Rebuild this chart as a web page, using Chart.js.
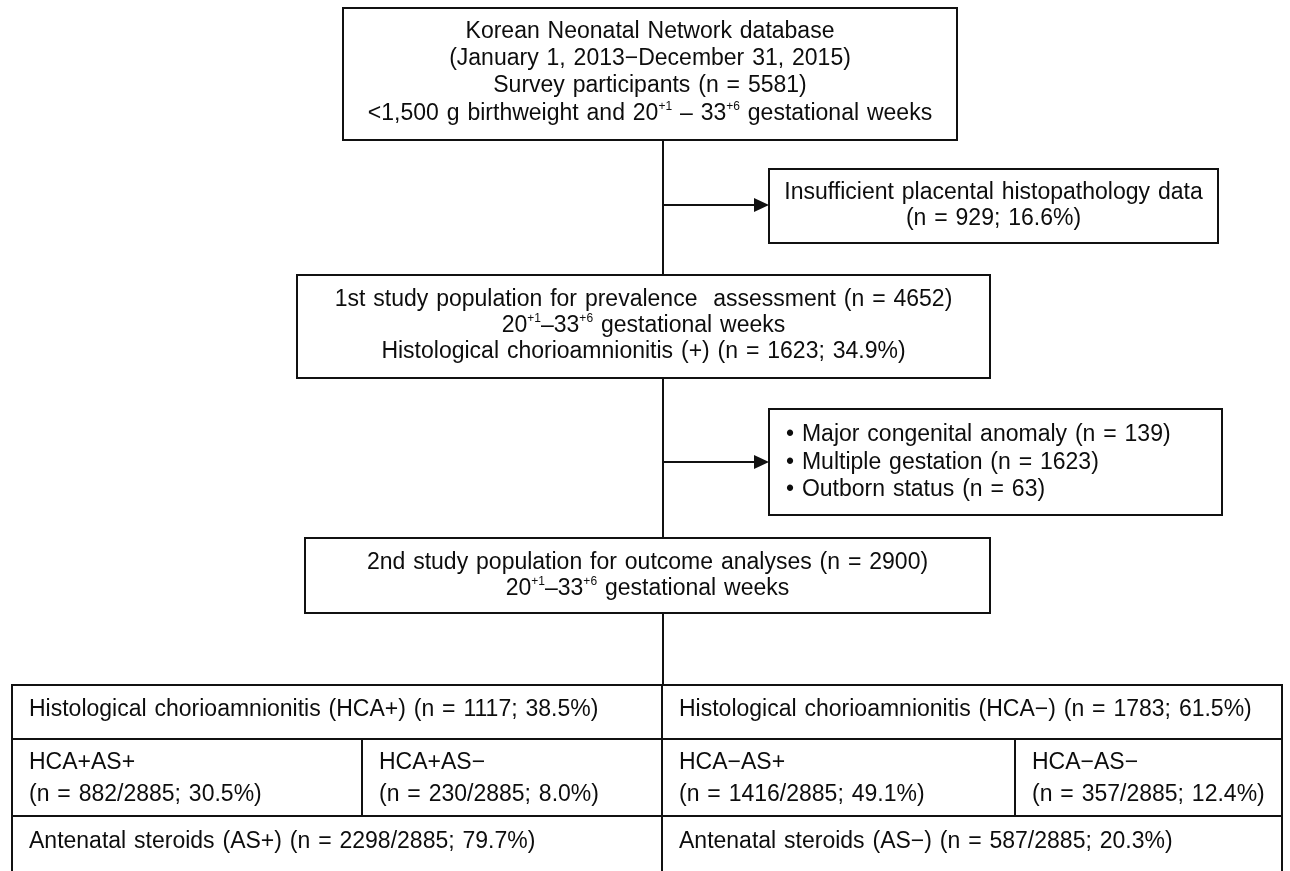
<!DOCTYPE html>
<html><head><meta charset="utf-8">
<script src="https://cdn.jsdelivr.net/npm/chart.js@4/dist/chart.umd.min.js"></script>
<style>html,body{margin:0;padding:0;background:#fff;overflow:hidden}#wrap{width:1290px;height:871px;position:relative}</style>
</head><body><div id="wrap"><canvas id="c"></canvas></div>
<script>
// ---- content (data) ----
const sourceLines = ["Korean Neonatal Network database", "(January 1, 2013\u2212December 31, 2015)", "Survey participants (n = 5581)", "<1,500 g birthweight and 20^{+1} \u2013 33^{+6} gestational weeks"];
const excluded1Lines = ["Insufficient placental histopathology data", "(n = 929; 16.6%)"];
const population1Lines = ["1st study population for prevalence  assessment (n = 4652)", "20^{+1}\u201333^{+6} gestational weeks", "Histological chorioamnionitis (+) (n = 1623; 34.9%)"];
const excluded2Lines = ["\u2022 Major congenital anomaly (n = 139)", "\u2022 Multiple gestation (n = 1623)", "\u2022 Outborn status (n = 63)"];
const population2Lines = ["2nd study population for outcome analyses (n = 2900)", "20^{+1}\u201333^{+6} gestational weeks"];
const hcaGroups = ["Histological chorioamnionitis (HCA+) (n = 1117; 38.5%)", "Histological chorioamnionitis (HCA\u2212) (n = 1783; 61.5%)"];
const subgroupNames = ["HCA+AS+", "HCA+AS\u2212", "HCA\u2212AS+", "HCA\u2212AS\u2212"];
const subgroupCounts = ["(n = 882/2885; 30.5%)", "(n = 230/2885; 8.0%)", "(n = 1416/2885; 49.1%)", "(n = 357/2885; 12.4%)"];
const steroidGroups = ["Antenatal steroids (AS+) (n = 2298/2885; 79.7%)", "Antenatal steroids (AS\u2212) (n = 587/2885; 20.3%)"];

// ---- layout (positions in chart units) ----
const LAYOUT = {
  spineX: 663,
  boxes: [
    {l: 343, t: 8,   r: 957,  b: 140, lines: sourceLines,      ys: [32, 59, 86, 114], align: 'center'},
    {l: 769, t: 169, r: 1218, b: 243, lines: excluded1Lines,   ys: [193, 219],        align: 'center', arrowY: 205},
    {l: 297, t: 275, r: 990,  b: 378, lines: population1Lines, ys: [300, 326, 352],   align: 'center'},
    {l: 769, t: 409, r: 1222, b: 515, lines: excluded2Lines,   ys: [435, 463, 490],   align: 'left', tx: 786, arrowY: 462},
    {l: 305, t: 538, r: 990,  b: 613, lines: population2Lines, ys: [563, 589],        align: 'center'}
  ],
  table: {l: 12, r: 1282, t: 685, b: 871, row1: 739, row2: 816, mid: 662, sub: [362, 1015]}
};

const FONT = '"Liberation Sans", Arial, sans-serif';
const FS = 23;
const INK = '#0d0d0d';

// ---- build datasets (lines through the scales) ----
const datasets = [];
function seg(points) {
  datasets.push({data: points.map(p => ({x: p[0], y: p[1]})), showLine: true, pointRadius: 0,
    borderColor: '#111', borderWidth: 2, borderJoinStyle: 'miter', borderCapStyle: 'square', tension: 0, fill: false});
}
const B = LAYOUT.boxes, X = LAYOUT.spineX, T = LAYOUT.table;
B.forEach(b => seg([[b.l, b.t], [b.r, b.t], [b.r, b.b], [b.l, b.b], [b.l, b.t]]));
seg([[X, B[0].b], [X, B[2].t]]);
seg([[X, B[2].b], [X, B[4].t]]);
seg([[X, B[4].b], [X, T.t]]);
[B[1], B[3]].forEach(b => seg([[X, b.arrowY], [b.l - 12, b.arrowY]]));
seg([[T.l, T.b], [T.l, T.t], [T.r, T.t], [T.r, T.b]]);
seg([[T.l, T.row1], [T.r, T.row1]]);
seg([[T.l, T.row2], [T.r, T.row2]]);
seg([[T.mid, T.t], [T.mid, T.b]]);
T.sub.forEach(sx => seg([[sx, T.row1], [sx, T.row2]]));

// table texts
const tableTexts = [];
const pad = 17;
hcaGroups.forEach((s, i) => tableTexts.push({s, x: (i === 0 ? T.l : T.mid) + pad, y: 710}));
subgroupNames.forEach((s, i) => {
  const x = [T.l, T.sub[0], T.mid, T.sub[1]][i] + pad;
  tableTexts.push({s, x, y: 763});
  tableTexts.push({s: subgroupCounts[i], x, y: 795});
});
steroidGroups.forEach((s, i) => tableTexts.push({s, x: (i === 0 ? T.l : T.mid) + pad, y: 842}));

// ---- rich text helper for superscripts ----
function parts(str) {
  const out = []; const re = /\^\{([^}]*)\}/g; let last = 0, m;
  while ((m = re.exec(str))) { if (m.index > last) out.push({t: str.slice(last, m.index), sup: false}); out.push({t: m[1], sup: true}); last = re.lastIndex; }
  if (last < str.length) out.push({t: str.slice(last), sup: false});
  return out;
}
function drawRich(ctx, str, x, y, align) {
  const ps = parts(str);
  const f = (sup) => (sup ? Math.round(FS * 0.52) : FS) + 'px ' + FONT;
  let w = 0;
  ps.forEach(p => { ctx.font = f(p.sup); p.w = ctx.measureText(p.t).width; w += p.w; });
  let cx = align === 'center' ? x - w / 2 : x;
  ps.forEach(p => { ctx.font = f(p.sup); ctx.fillText(p.t, cx, p.sup ? y - FS * 0.3 : y); cx += p.w; });
}

const textPlugin = {
  id: 'flowText',
  afterDatasetsDraw(chart) {
    const ctx = chart.ctx, xs = chart.scales.x, ys = chart.scales.y;
    ctx.save();
    ctx.textBaseline = 'middle';
    if ('wordSpacing' in ctx) ctx.wordSpacing = '1.5px';
    // arrowheads
    [B[1], B[3]].forEach(b => {
      const tx = xs.getPixelForValue(b.l), ty = ys.getPixelForValue(b.arrowY);
      ctx.beginPath(); ctx.moveTo(tx, ty); ctx.lineTo(tx - 15, ty - 7); ctx.lineTo(tx - 15, ty + 7); ctx.closePath(); ctx.fillStyle = '#111'; ctx.fill();
    });
    ctx.fillStyle = INK;
    B.forEach(b => {
      b.lines.forEach((s, i) => {
        const x = b.align === 'center' ? xs.getPixelForValue((b.l + b.r) / 2) : xs.getPixelForValue(b.tx);
        drawRich(ctx, s, x, ys.getPixelForValue(b.ys[i]), b.align);
      });
    });
    tableTexts.forEach(t => drawRich(ctx, t.s, xs.getPixelForValue(t.x), ys.getPixelForValue(t.y), 'left'));
    ctx.restore();
  }
};

new Chart(document.getElementById('c'), {
  type: 'scatter',
  data: {datasets},
  options: {
    responsive: true, maintainAspectRatio: false, animation: false, events: [],
    layout: {padding: 0},
    plugins: {legend: {display: false}, tooltip: {enabled: false}},
    scales: {
      x: {type: 'linear', min: 0, max: 1290, display: false},
      y: {type: 'linear', min: 0, max: 871, reverse: true, display: false}
    }
  },
  plugins: [textPlugin]
});
</script>
</body></html>
